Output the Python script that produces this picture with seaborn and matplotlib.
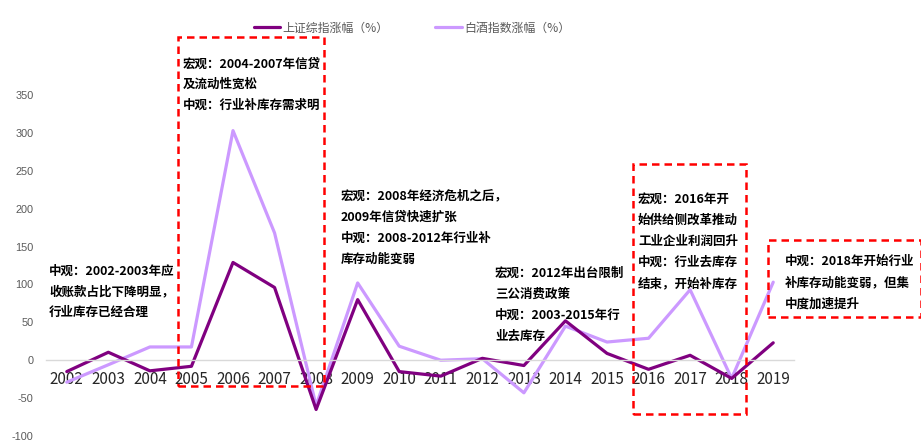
import matplotlib
matplotlib.use("Agg")
import matplotlib.pyplot as plt
from matplotlib.patches import Rectangle
from matplotlib.lines import Line2D
import seaborn as sns
import pandas as pd
import numpy as np

years = [str(y) for y in range(2002, 2020)]
shanghai = [-15, 10.5, -14, -8, 129, 96, -65, 80, -15, -21, 2.5, -7, 52, 9, -12, 6.5, -24, 23]
baijiu = [-29, -6, 17.5, 17.5, 303, 168, -60, 102, 18.5, 0, 2, -43, 45, 24, 29, 93, -24, 103]
series_names = ["上证综指涨幅（%）", "白酒指数涨幅（%）"]
colors = ["#800080", "#CC99FF"]
yticks = [-100, -50, 0, 50, 100, 150, 200, 250, 300, 350]

notes = [
    ["宏观：2004-2007年信贷", "及流动性宽松", "中观：行业补库存需求明"],
    ["中观：2002-2003年应", "收账款占比下降明显，", "行业库存已经合理"],
    ["宏观：2008年经济危机之后，", "2009年信贷快速扩张", "中观：2008-2012年行业补", "库存动能变弱"],
    ["宏观：2012年出台限制", "三公消费政策", "中观：2003-2015年行", "业去库存"],
    ["宏观：2016年开", "始供给侧改革推动", "工业企业利润回升", "中观：行业去库存", "结束，开始补库存"],
    ["中观：2018年开始行业", "补库存动能变弱，但集", "中度加速提升"],
]

sns.set_theme(style="white")
plt.rcParams['font.family'] = ['Noto Sans CJK SC', 'DejaVu Sans']

W, H = 921, 444
fig = plt.figure(figsize=(W / 100, H / 100), dpi=100)
ax = fig.add_axes([46 / W, 1 - 436 / H, (794 - 46) / W, (436 - 95) / H])

df = pd.DataFrame({
    "idx": list(range(len(years))) * 2,
    "value": shanghai + baijiu,
    "series": [series_names[0]] * len(years) + [series_names[1]] * len(years),
})
# draw light series first so dark is on top
sns.lineplot(data=df, x="idx", y="value", hue="series", hue_order=series_names[::-1],
             palette=colors[::-1], linewidth=2.3, ax=ax, legend=False, sort=False)

ax.set_xlim(-0.5, len(years) - 0.5)
ax.set_ylim(-100, 350)
ax.set_xlabel("")
ax.set_ylabel("")
ax.set_yticks(yticks)
ax.set_yticklabels([str(v) for v in yticks], fontfamily="Liberation Sans", color="#595959", fontsize=7.8)
ax.set_xticks(range(len(years)))
ax.set_xticklabels(years, fontfamily="Liberation Sans", color="#595959", fontsize=7.3)
ax.set_xticks(np.arange(-0.5, len(years), 1), minor=True)
ax.tick_params(axis="y", length=0, pad=9)
ax.tick_params(axis="x", which="major", length=0, pad=7.5)
ax.tick_params(axis="x", which="minor", direction="in", length=3, color="#D9D9D9", width=1)
for s in ["left", "right", "top"]:
    ax.spines[s].set_visible(False)
ax.spines["bottom"].set_position(("data", 0))
ax.spines["bottom"].set_color("#D9D9D9")
ax.spines["bottom"].set_linewidth(1)
ax.grid(False)

# legend
handles = [Line2D([0], [0], color=c, lw=2.3) for c in colors]
fig.legend(handles, series_names, loc="center", bbox_to_anchor=(412 / W, 1 - 28 / H),
           ncol=2, frameon=False, fontsize=8.6, handlelength=2.2, columnspacing=3.9,
           handletextpad=0.2, labelcolor="#595959")

# red dashed boxes (pixel coords: x0, y0, x1, y1)
boxes = [(178, 37, 324, 386), (633, 164, 746, 414), (768, 240, 921, 317)]
for x0, y0, x1, y1 in boxes:
    fig.patches.append(Rectangle((x0 / W, 1 - y1 / H), (x1 - x0) / W, (y1 - y0) / H,
                                 transform=fig.transFigure, fill=False, edgecolor="#FF0000",
                                 linewidth=1.8, linestyle=(0, (3, 2)), zorder=2))

# annotation text (left x, first-line y, line step) in pixels
positions = [(183, 64, 20.5), (49, 271, 20.5), (341, 196, 21), (495, 273, 21), (638, 199, 21.2), (785, 261, 21.5)]
for lines, (x, y, step) in zip(notes, positions):
    for i, line in enumerate(lines):
        fig.text(x / W, 1 - (y + i * step) / H, line, ha="left", va="center",
                 fontsize=9.0, fontweight="bold", color="black", zorder=3)

fig.savefig("out.png", dpi=100)
